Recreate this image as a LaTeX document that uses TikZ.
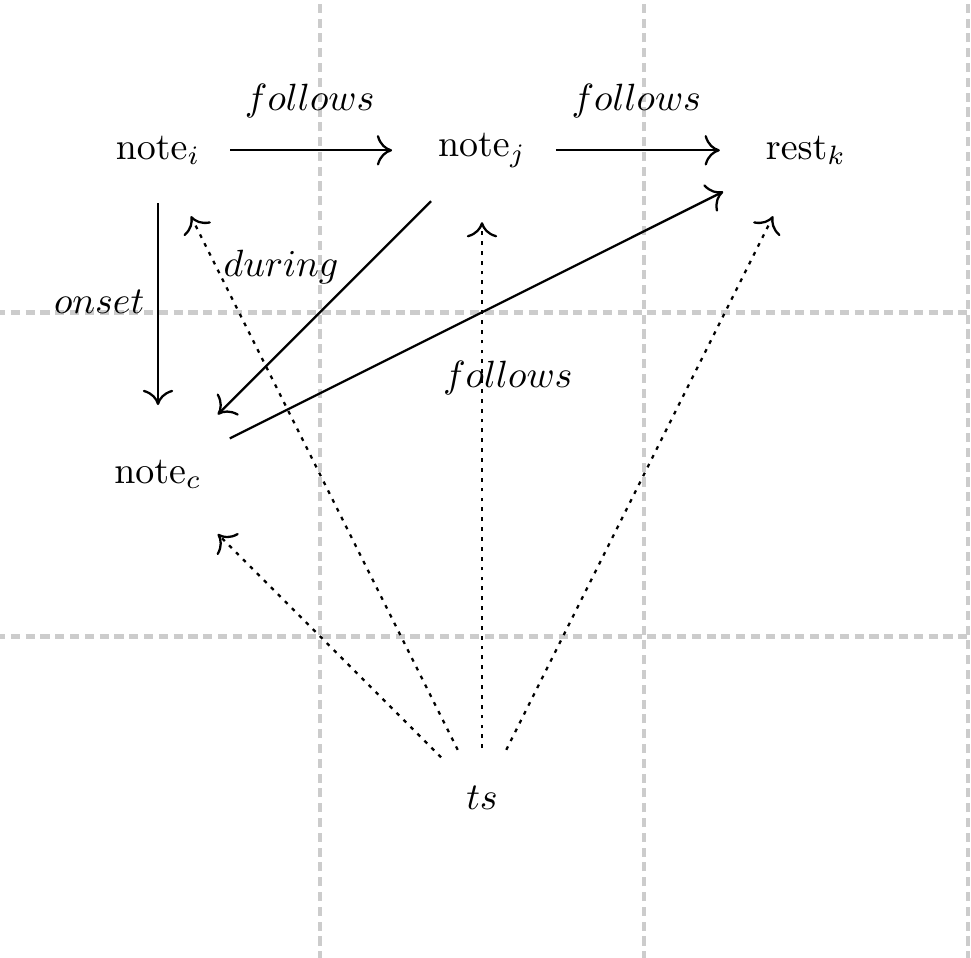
\documentclass[tikz,border=0pt]{standalone}
\usetikzlibrary{arrows.meta}
\tikzstyle{cell} = [
    rectangle,
    inner xsep=0.12cm,
    inner ysep=0.2cm
]
\tikzstyle{lbl} = [
    inner sep=1pt
]
\tikzstyle{rel} = [
    semithick,
    shorten <=0.15cm,
    shorten >=0.3cm,
    -{Computer Modern Rightarrow[length=4pt, width=8pt]}
]
\tikzstyle{tsrel} = [
    rel,
    dash pattern=on 1pt off 1.6pt % short dots
]
\tikzstyle{gridline} = [
    gray!40,
    line width=1.2pt,
    dash pattern=on 2.4pt off 1.5pt
]

\begin{document}
\begin{tikzpicture}
\useasboundingbox (0.037,0.022) rectangle (9.028,8.892);
\draw[gridline, step=3cm] (0,0) grid (9,9);

\node[cell] (ni) at (1.5,7.5) {$\mathrm{note}_i$};
\node[cell] (nj) at (4.5,7.5) {$\mathrm{note}_j$};
\node[cell] (rk) at (7.5,7.5) {$\mathrm{rest}_k$};
\node[cell] (nc) at (1.5,4.5) {$\mathrm{note}_c$};
\node[cell] (ts) at (4.5,1.5) {$ts$};

\draw[rel] (ni) -- node[lbl, pos=0.455, above=0.25cm] (fij) {$follows$} (nj);
\draw[rel] (nj) -- node[lbl, pos=0.455, above=0.25cm] (fjk) {$follows$} (rk);
\draw[rel] (ni) -- node[lbl, pos=0.458, left=0.08cm] (oic) {$onset$} (nc);
\draw[rel] (nj) -- node[lbl, pos=0.4, anchor=south east] (djc) {$during$} (nc);
\draw[rel] (nc) -- node[lbl, pos=0.415, anchor=north west, yshift=-0.2cm] (fck) {$follows$} (rk);

\draw[tsrel] (ts) -- (nc);
\draw[tsrel] (ts) -- (ni);
\draw[tsrel] (ts) -- (nj);
\draw[tsrel] (ts) -- (rk);
\end{tikzpicture}
\end{document}
